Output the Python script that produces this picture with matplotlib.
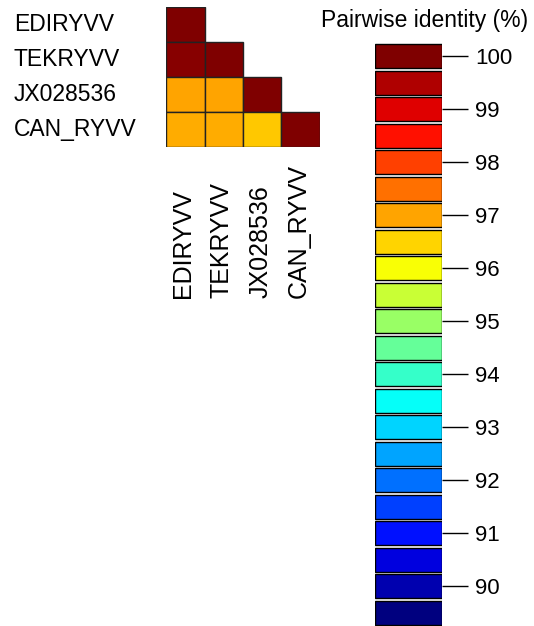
import numpy as np
import matplotlib
matplotlib.use('Agg')
import matplotlib.pyplot as plt
from matplotlib.colors import LinearSegmentedColormap, Normalize
from matplotlib.transforms import blended_transform_factory

plt.rcParams['font.family'] = ['Liberation Sans', 'DejaVu Sans']

seqs = ['EDIRYVV', 'TEKRYVV', 'JX028536', 'CAN_RYVV']
# lower triangle: row i against column j (j <= i)
identity = [
    [100.0],
    [99.9, 100.0],
    [97.0, 97.0, 100.0],
    [96.9, 96.9, 96.6, 100.0],
]
levels = np.arange(89.5, 100.01, 0.5)
tick_vals = list(range(90, 101))

jet = LinearSegmentedColormap.from_list(
    'jetcols', ['#00007F', 'blue', '#007FFF', 'cyan', '#7FFF7F',
                'yellow', '#FF7F00', 'red', '#7F0000'])
norm = Normalize(89.5, 100)

W, H = 534, 626
fig = plt.figure(figsize=(W / 100, H / 100), dpi=100)

# heatmap
ax = fig.add_axes([166 / W, 1 - 147 / H, 154 / W, 140 / H])
n = len(seqs)
for i, row in enumerate(identity):
    row = np.array(row)
    ax.bar(np.arange(len(row)) + 0.5, 1, bottom=i, width=1,
           color=jet(norm(row)), edgecolor='#222222', linewidth=1)
ax.set_xlim(0, n)
ax.set_ylim(n, 0)
ax.axis('off')

tr_row = blended_transform_factory(fig.transFigure, ax.transData)
tr_col = blended_transform_factory(ax.transData, fig.transFigure)
for i, s in enumerate(seqs):
    ax.text(14 / W, i + 0.5, s, transform=tr_row, ha='left', va='center', fontsize=16.5)
    ax.text(i + 0.45, 1 - 298 / H, s, transform=tr_col, rotation=90,
            ha='center', va='bottom', fontsize=18)

# colour key
cax = fig.add_axes([375 / W, 0, 67 / W, 1 - 43 / H])
cax.bar(0.5, 0.46, bottom=levels - 0.23, width=1, color=jet(norm(levels)),
        edgecolor='black', linewidth=1)
cax.set_xlim(0, 1)
cax.set_ylim(89.25, 100.25)
for sp in cax.spines.values():
    sp.set_visible(False)
cax.set_xticks([])
cax.yaxis.tick_right()
cax.set_yticks(tick_vals)
cax.tick_params(axis='y', length=19, width=1, pad=5, labelsize=16)

fig.text(425 / W, 1 - 20 / H, 'Pairwise identity (%)', ha='center', va='center', fontsize=16.5)

fig.savefig('out.png', dpi=100)
